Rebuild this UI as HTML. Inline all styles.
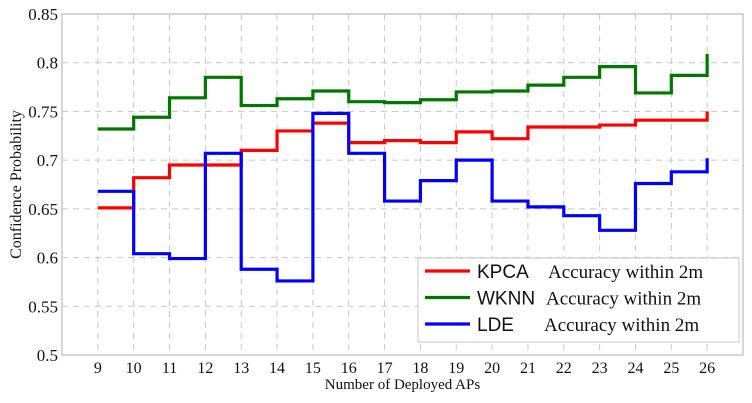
<!DOCTYPE html>
<html><head><meta charset="utf-8"><style>
html,body{margin:0;padding:0;background:#fff;}
svg{display:block;font-family:"Liberation Serif",serif;}
</style></head><body>
<svg id="chart" width="752" height="403"></svg>
<script>
const xCats=[9,10,11,12,13,14,15,16,17,18,19,20,21,22,23,24,25,26];
const kpca=[0.651,0.682,0.695,0.695,0.710,0.730,0.738,0.718,0.720,0.718,0.729,0.722,0.734,0.734,0.736,0.741,0.741,0.750];
const wknn=[0.732,0.744,0.764,0.785,0.756,0.763,0.771,0.760,0.759,0.762,0.770,0.771,0.777,0.785,0.796,0.769,0.787,0.809];
const lde=[0.668,0.604,0.599,0.707,0.588,0.576,0.748,0.707,0.658,0.679,0.700,0.658,0.652,0.643,0.628,0.676,0.688,0.702];
const yTicks=[0.5,0.55,0.6,0.65,0.7,0.75,0.8,0.85];
const yTickLabels=["0.5","0.55","0.6","0.65","0.7","0.75","0.8","0.85"];
const seriesNames=["KPCA","WKNN","LDE"];

const NS="http://www.w3.org/2000/svg";
const svg=document.getElementById('chart');
const L=62,R=743,T=14,B=355;
const xs=v=>L+(v-8)/(27-8)*(R-L);
const ys=v=>B-(v-0.5)/(0.85-0.5)*(B-T);
function mk(tag,attrs,parent){const e=document.createElementNS(NS,tag);for(const k in attrs)e.setAttribute(k,attrs[k]);(parent||svg).appendChild(e);return e;}

const grid=mk('g',{});


yTicks.forEach((t,i)=>{
  if(i>0&&i<yTicks.length-1) mk('line',{x1:L,x2:R,y1:ys(t),y2:ys(t),stroke:'#c8c8c8','stroke-dasharray':'6,5'},grid);
  const tx=mk('text',{x:L-4,y:ys(t)+6,'text-anchor':'end','font-size':17,fill:'#111'});
  tx.textContent=yTickLabels[i];
  
  
});
xCats.forEach(c=>{
  mk('line',{x1:xs(c),x2:xs(c),y1:T,y2:B,stroke:'#c8c8c8','stroke-dasharray':'6,5'},grid);
  const tx=mk('text',{x:xs(c),y:B+18,'text-anchor':'middle','font-size':16,fill:'#111'});
  tx.textContent=c;
  
  
});
const frame=mk('rect',{x:L,y:T,width:R-L,height:B-T,fill:'none',stroke:'#c8c8c8','stroke-width':1.5});



function stepPath(vals){
  let d='M'+xs(xCats[0])+','+ys(vals[0]);
  for(let i=1;i<vals.length;i++){d+=' H'+xs(xCats[i])+' V'+ys(vals[i]);}
  return d;
}
const colors=['#ff0000','#007800','#0000ff'];
[kpca,wknn,lde].forEach((s,i)=>{
  const p=mk('path',{d:stepPath(s),fill:'none',stroke:colors[i],'stroke-width':3.2});
  
  
});

const xt=mk('text',{x:(L+R)/2,y:389,'text-anchor':'middle','font-size':15,fill:'#111'});
xt.textContent='Number of Deployed APs';


const yt=mk('text',{x:0,y:0,'text-anchor':'middle','font-size':16,fill:'#111',transform:'translate(21,'+((T+B)/2)+') rotate(-90)'});
yt.textContent='Confidence Probability';



const lg=mk('g',{});


mk('rect',{x:418,y:258,width:321,height:84,fill:'#fff',stroke:'#c8c8c8','stroke-width':1},lg);
const ax=[548,546,544];
seriesNames.forEach((n,i)=>{
  const y=271+i*26.5;
  const e=mk('g',{},lg);
  
  
  mk('line',{x1:425,x2:470,y1:y,y2:y,stroke:colors[i],'stroke-width':3.2},e);
  const t1=mk('text',{x:477,y:y+7,'font-size':19,fill:'#111','font-family':'Liberation Sans, sans-serif'},e);
  t1.textContent=n;
  const t2=mk('text',{x:ax[i],y:y+7,'font-size':19,fill:'#111'},e);
  t2.textContent='Accuracy within 2m';
});
</script>
</body></html>
